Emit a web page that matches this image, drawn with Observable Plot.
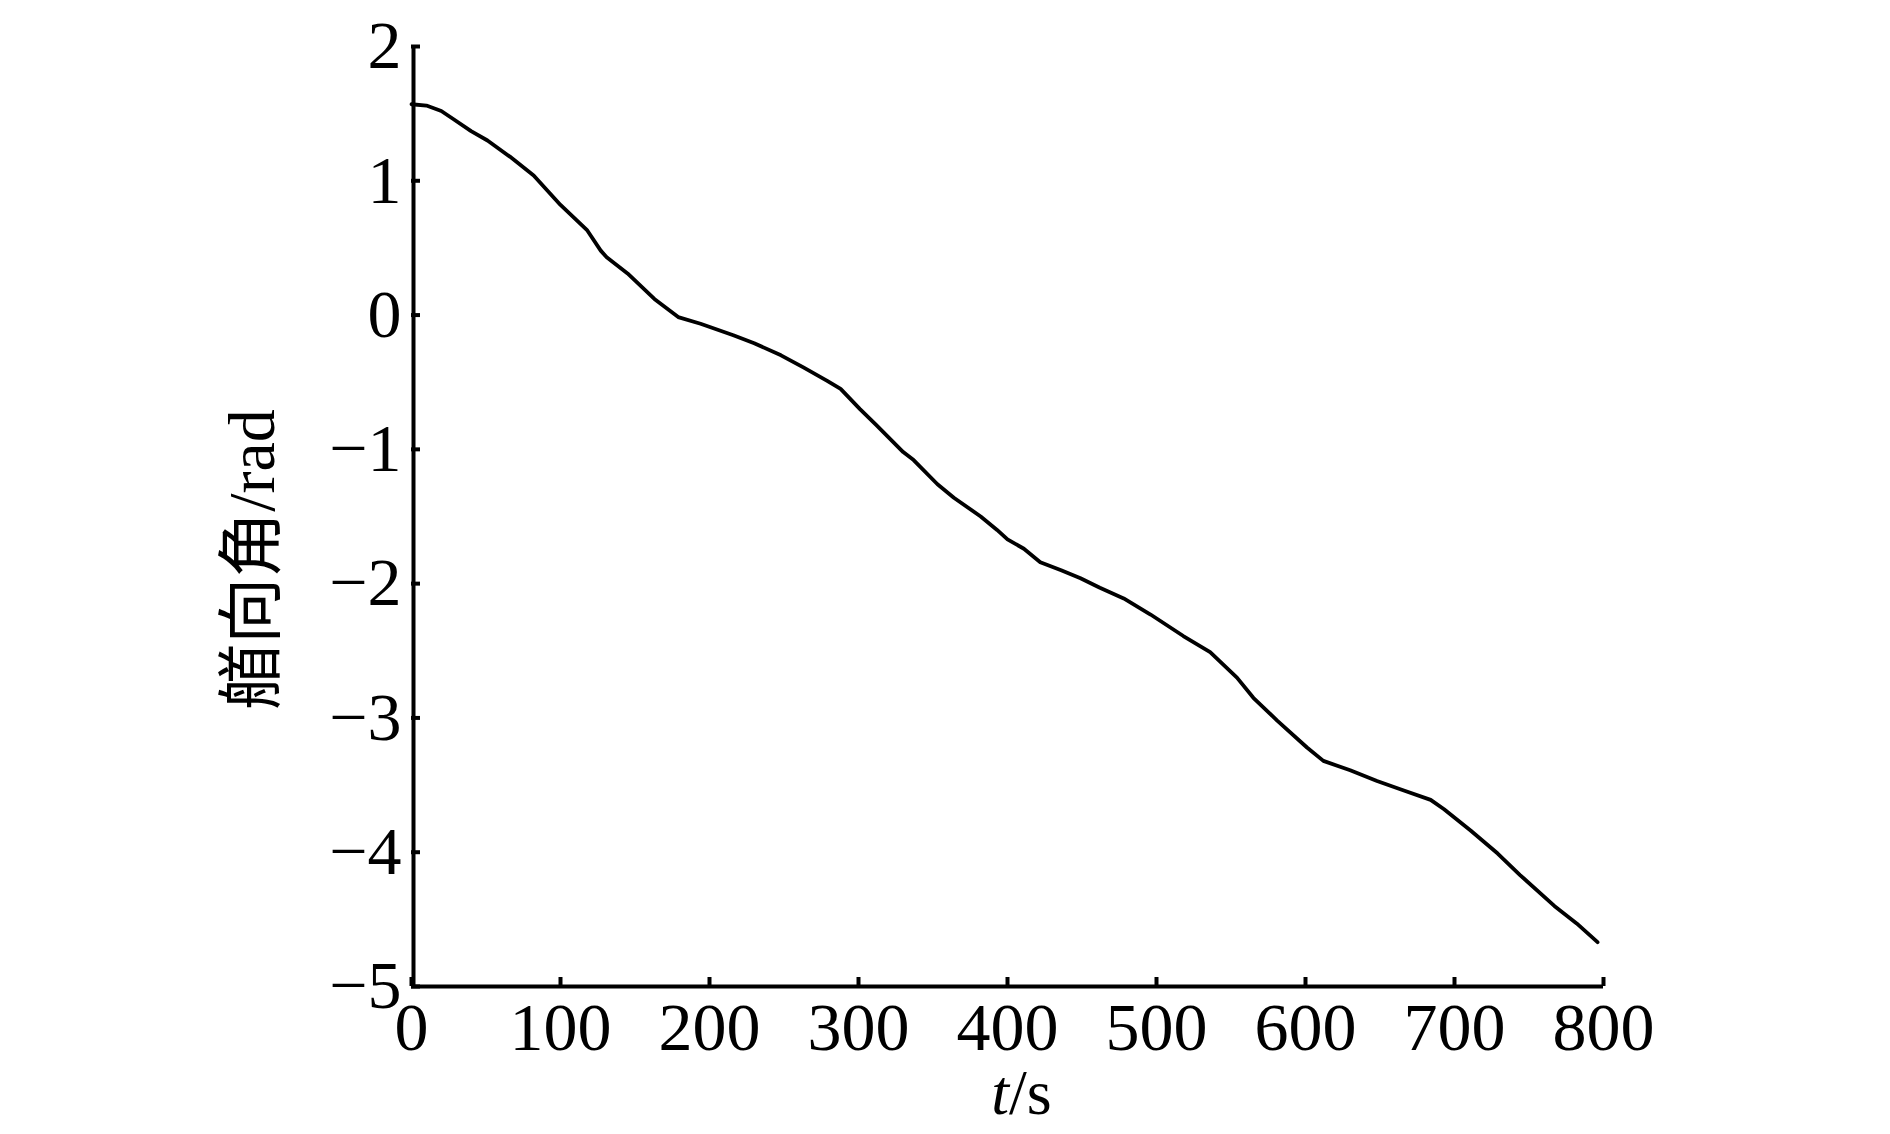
<!DOCTYPE html>
<html>
<head>
<meta charset="utf-8">
<script src="https://cdn.jsdelivr.net/npm/d3@7"></script>
<script src="https://cdn.jsdelivr.net/npm/@observablehq/plot@0.6"></script>
<style>
  html, body { margin: 0; padding: 0; background: #fff; }
  #chart svg { display: block; }
</style>
</head>
<body>
<div id="chart"></div>
<script>
const timeS = [0, 10, 20, 28, 40, 51, 66, 82, 91, 100, 118, 127, 131, 145, 163, 179, 194, 216, 230, 248, 263, 279, 288, 301, 312, 330, 337, 353, 364, 382, 393, 400, 411, 422, 436, 449, 462, 478, 496, 518, 536, 554, 565, 581, 601, 612, 630, 648, 666, 684, 693, 711, 729, 744, 767, 782, 796];
const heading = [1.57, 1.56, 1.52, 1.46, 1.37, 1.30, 1.18, 1.04, 0.93, 0.82, 0.63, 0.48, 0.43, 0.31, 0.12, -0.015, -0.065, -0.15, -0.21, -0.30, -0.39, -0.49, -0.55, -0.70, -0.82, -1.02, -1.08, -1.26, -1.36, -1.50, -1.60, -1.67, -1.74, -1.84, -1.90, -1.96, -2.03, -2.11, -2.23, -2.39, -2.51, -2.70, -2.85, -3.02, -3.22, -3.32, -3.39, -3.47, -3.54, -3.61, -3.68, -3.84, -4.01, -4.17, -4.40, -4.53, -4.67];
const xTicks = [0, 100, 200, 300, 400, 500, 600, 700, 800];
const yTicks = [2, 1, 0, -1, -2, -3, -4, -5];
const yLabel = "艏向角/rad";
const xLabelItalic = "t";
const xLabelRest = "/s";

const data = timeS.map((t, i) => ({t, v: heading[i]}));

const W = 1890, H = 1134;
const mL = 411, mR = 287, mT = 46, mB = 148;
const plotW = W - mL - mR, plotH = H - mT - mB;
const serif = "'Liberation Serif', 'Times New Roman', serif";

const chart = Plot.plot({
  width: W,
  height: H,
  marginLeft: mL,
  marginRight: mR,
  marginTop: mT,
  marginBottom: mB,
  style: {fontFamily: serif, fontSize: "68px", color: "#000", background: "#fff"},
  x: {domain: [0, 800], ticks: xTicks},
  y: {domain: [-5, 2], ticks: yTicks},
  marks: [
    Plot.axisX(xTicks, {tickSize: 0, tickPadding: 15, fontSize: 68, fontFamily: serif, label: null, tickFormat: d => String(d)}),
    Plot.axisY(yTicks, {tickSize: 0, tickPadding: 10, fontSize: 68, fontFamily: serif, label: null, tickFormat: d => d < 0 ? "\u2212" + Math.abs(d) : String(d)}),
    Plot.tickX(xTicks, {x: d => d, insetTop: plotH - 9, stroke: "#000", strokeWidth: 4}),
    Plot.tickY(yTicks, {y: d => d, insetRight: plotW - 9, stroke: "#000", strokeWidth: 4}),
    Plot.ruleX([0], {stroke: "#000", strokeWidth: 4, dx: 2}),
    Plot.ruleY([-5], {stroke: "#000", strokeWidth: 4}),
    Plot.line(data, {x: "t", y: "v", stroke: "#000", strokeWidth: 3.8, curve: "linear"}),
    Plot.text([yLabel], {frameAnchor: "left", textAnchor: "middle", lineAnchor: "middle", dx: -159, dy: 43, rotate: -90, fontSize: 66, fontFamily: "'Liberation Serif', 'Noto Sans CJK SC', serif", fill: "#000"}),
    Plot.text([xLabelItalic + xLabelRest], {frameAnchor: "bottom", lineAnchor: "middle", textAnchor: "middle", dx: 14, dy: 107, fontSize: 64, fontFamily: serif, fill: "#000", className: "xtitle"})
  ]
});

// Italicise the variable name "t" in the x-axis title, keeping it one text element
d3.select(chart).selectAll(".xtitle text").each(function () {
  const el = d3.select(this);
  el.text(null);
  el.append("tspan").attr("font-style", "italic").text(xLabelItalic);
  el.append("tspan").text(xLabelRest);
});

document.getElementById("chart").appendChild(chart);
</script>
</body>
</html>
